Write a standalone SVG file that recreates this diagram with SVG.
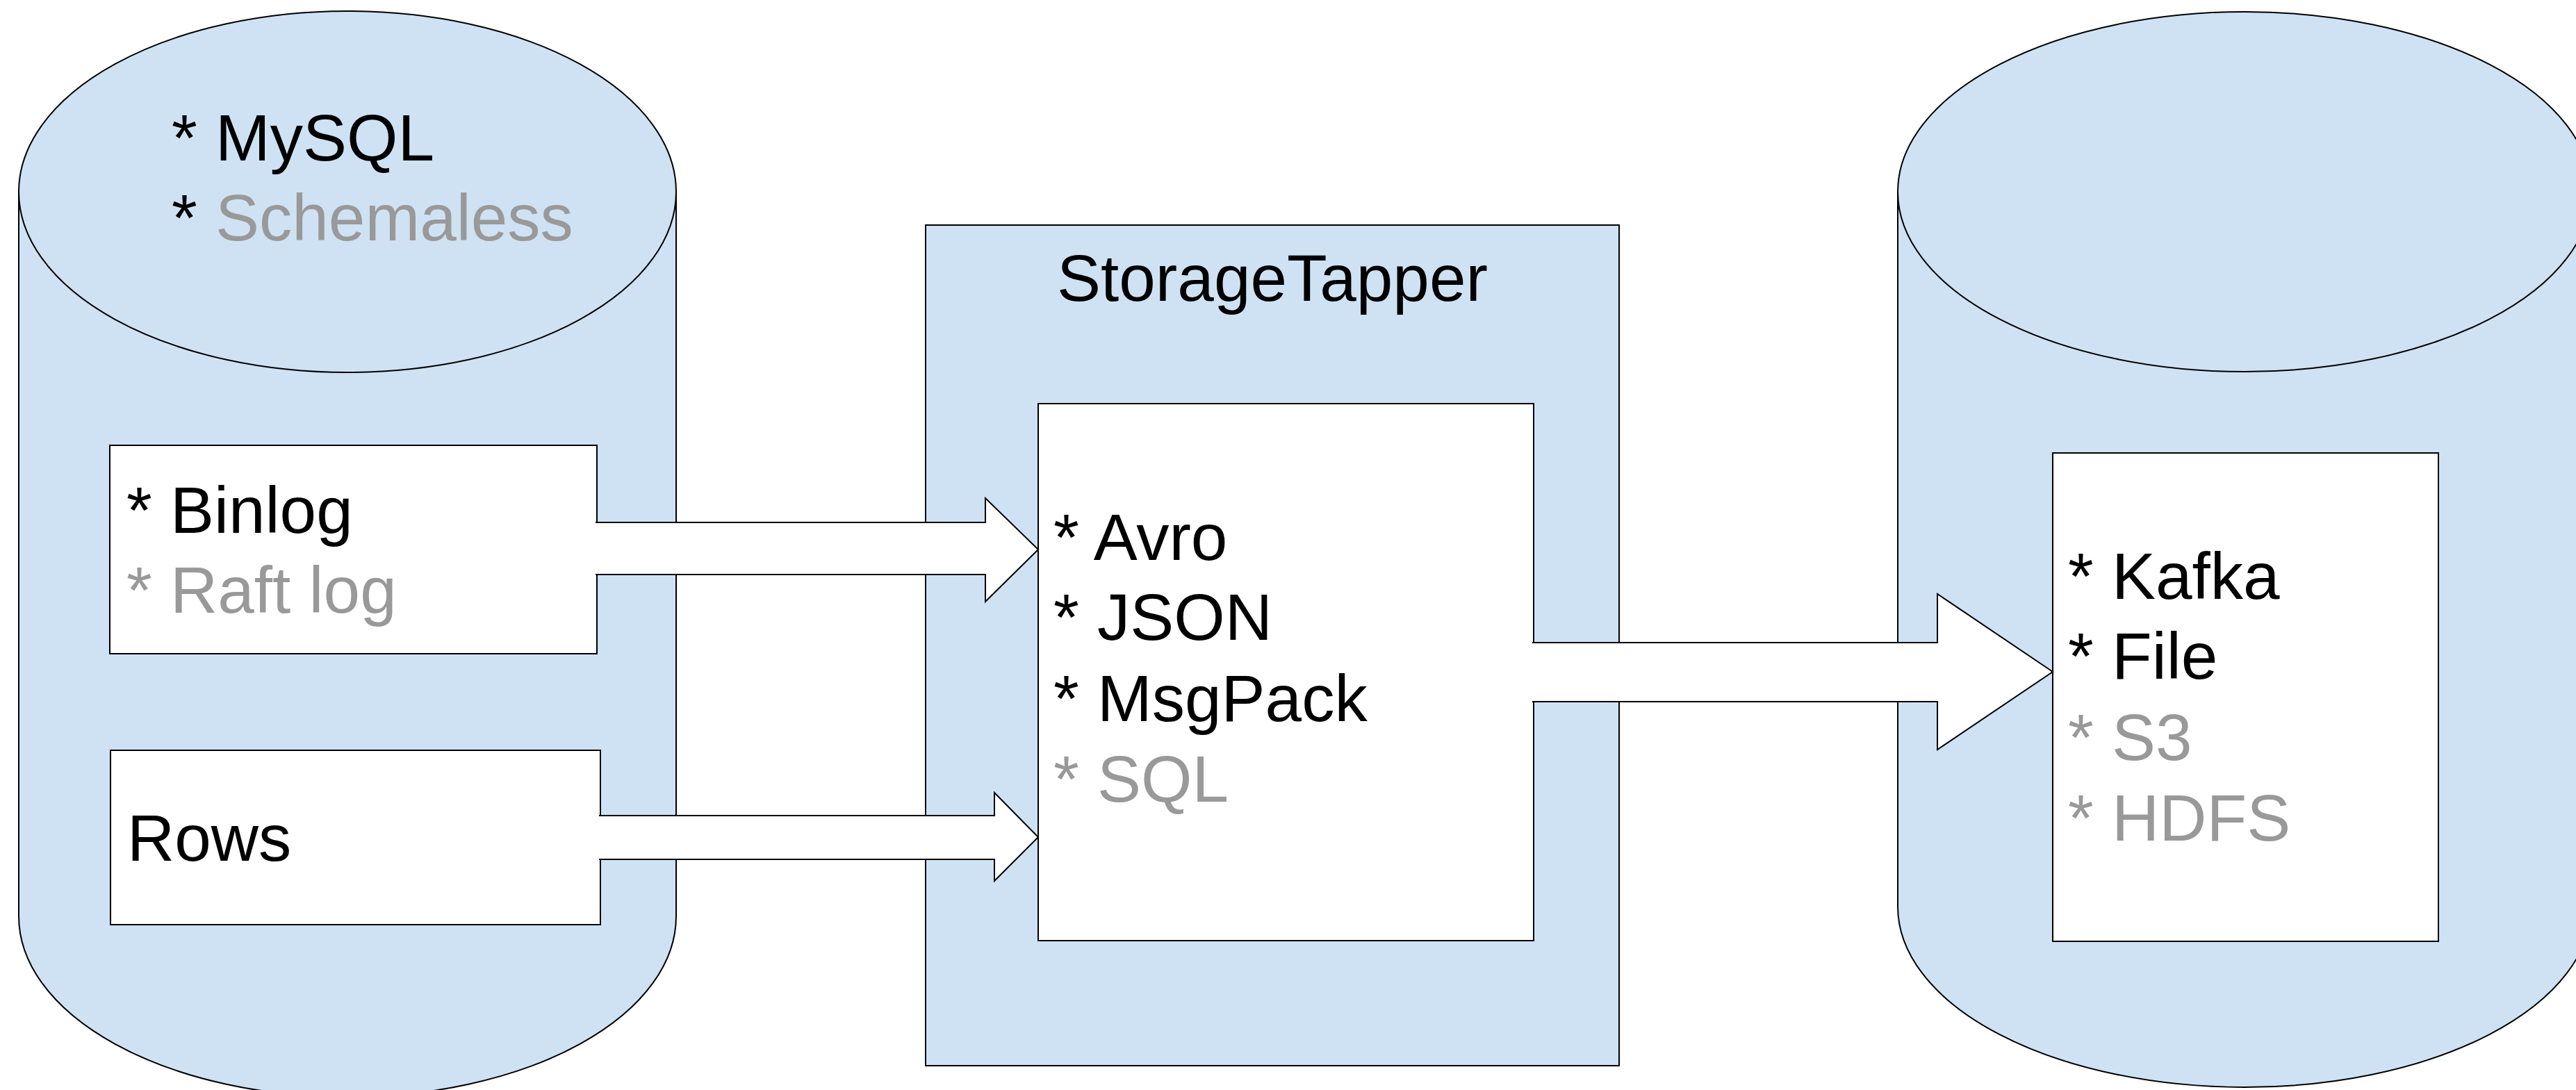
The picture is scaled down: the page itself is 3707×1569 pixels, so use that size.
<svg xmlns="http://www.w3.org/2000/svg" width="3707" height="1569" viewBox="0 0 3707 1569">
<style>
.shape{fill:#cfe2f3;stroke:#000;stroke-width:2}
.box{fill:#fff;stroke:#000;stroke-width:2}
.arrow{fill:#fff;stroke:#000;stroke-width:2}
text{font-family:"Liberation Sans",Arial,sans-serif;font-size:94.5px;fill:#000}
.g{fill:#999999}
</style>
<rect width="3707" height="1569" fill="#fff"/>
<g id="source-db">
<path class="shape" d="M27,276 A473,260 0 0 1 973,276 V1319 A473,260 0 0 1 27,1319 Z"/>
<path d="M27,276 A473,260 0 0 0 973,276" fill="none" stroke="#000" stroke-width="2"/>
<text x="247" y="231">* MySQL</text>
<text x="247" y="346">* <tspan class="g">Schemaless</tspan></text>
</g>
<g id="binlog">
<rect class="box" x="158" y="641" width="701" height="300"/>
<text x="182" y="767">* Binlog</text>
<text x="182" y="882" class="g">* Raft log</text>
</g>
<g id="rows">
<rect class="box" x="159" y="1080" width="705" height="251"/>
<text x="183" y="1239">Rows</text>
</g>
<g id="storagetapper">
<rect class="shape" x="1332" y="324" width="998" height="1210"/>
<text x="1831" y="433" text-anchor="middle">StorageTapper</text>
<rect class="box" x="1494" y="581" width="713" height="773"/>
<text x="1516" y="806">* Avro</text>
<text x="1516" y="921">* JSON</text>
<text x="1516" y="1038">* MsgPack</text>
<text x="1516" y="1154" class="g">* SQL</text>
</g>
<g id="target-db">
<path class="shape" d="M2731,276 A499,259 0 0 1 3729,276 V1305 A499,260 0 0 1 2731,1305 Z"/>
<path d="M2731,276 A499,259 0 0 0 3729,276" fill="none" stroke="#000" stroke-width="2"/>
<rect class="box" x="2954" y="652" width="555" height="703"/>
<text x="2976" y="862">* Kafka</text>
<text x="2976" y="977">* File</text>
<text x="2976" y="1094" class="g">* S3</text>
<text x="2976" y="1210" class="g">* HDFS</text>
</g>
<g id="connectors">
<path class="arrow" d="M857,752 H1418 V717 L1494,791 L1418,866 V827 H857"/>
<path class="arrow" d="M862,1174 H1431 V1141 L1494,1205 L1431,1268 V1237 H862"/>
<path class="arrow" d="M2205,925 H2788 V855 L2954,967 L2788,1079 V1010 H2205"/>
</g>
</svg>
